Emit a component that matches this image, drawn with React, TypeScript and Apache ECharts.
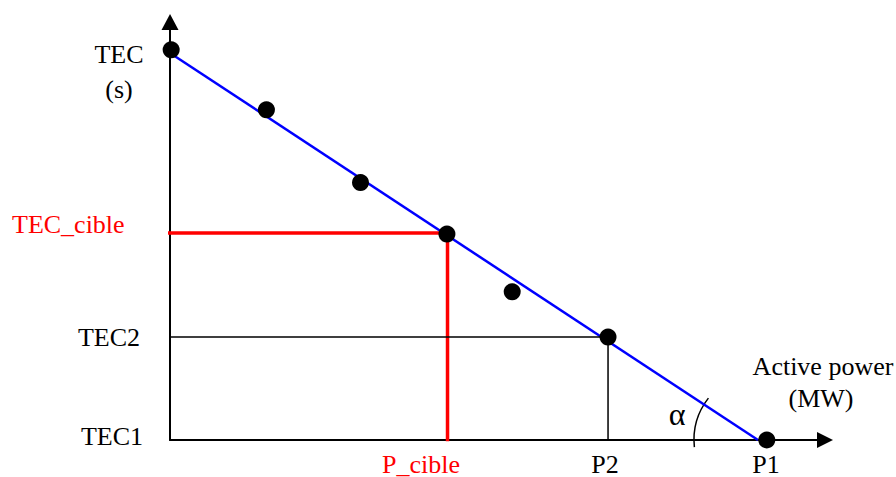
import React, { useEffect, useRef } from "react";
import * as echarts from "echarts";

// Measured points (x: active power units, y: TEC units)
const pointsX = [0.2, 16.4, 32.4, 47.1, 58.2, 74.5, 101.5];
const pointsY = [100.8, 85.3, 66.5, 53.2, 38.3, 26.6, 0];

// Regression line end points
const lineX = [0, 100];
const lineY = [100, 0];

// Target and TEC2 references
const targetP = 47.2;
const targetTEC = 53.5;
const p2 = 74.5;
const tec2 = 26.6;

const yLabels = ["TEC1", "TEC2", "TEC_cible"];
const xLabels = ["P_cible", "P2", "P1"];

const FONT = "Liberation Serif";

export default function App() {
  const ref = useRef<HTMLDivElement>(null);
  useEffect(() => {
    if (!ref.current) return;
    const chart = echarts.init(ref.current, null, { renderer: "svg" });
    const txt = (text: string, x: number, y: number, align: string, fill = "#000", size = 26) => ({
      type: "text",
      x,
      y,
      style: {
        text,
        fontSize: size,
        fontFamily: FONT,
        fill,
        align,
        verticalAlign: "middle",
      },
    });
    chart.setOption({
      animation: false,
      backgroundColor: "#fff",
      grid: { left: 170, right: 71, top: 22, bottom: 37 },
      xAxis: {
        type: "value",
        min: 0,
        max: 111.4,
        axisLine: {
          show: true,
          symbol: ["none", "triangle"],
          symbolSize: [16, 16],
          lineStyle: { color: "#000", width: 2 },
        },
        axisTick: { show: false },
        axisLabel: { show: false },
        splitLine: { show: false },
      },
      yAxis: {
        type: "value",
        min: 0,
        max: 108,
        axisLine: {
          show: true,
          symbol: ["none", "triangle"],
          symbolSize: [17, 16],
          lineStyle: { color: "#000", width: 2 },
        },
        axisTick: { show: false },
        axisLabel: { show: false },
        splitLine: { show: false },
      },
      series: [
        {
          type: "line",
          data: lineX.map((x, i) => [x, lineY[i]]),
          symbol: "none",
          lineStyle: { color: "#0000ff", width: 2.5 },
          clip: false,
          z: 2,
        },
        {
          type: "line",
          data: [
            [-0.5, targetTEC],
            [targetP, targetTEC],
            [targetP, -0.3],
          ],
          symbol: "none",
          lineStyle: { color: "#ff0000", width: 3.5 },
          clip: false,
          z: 3,
        },
        {
          type: "line",
          data: [
            [-0.3, tec2],
            [p2, tec2],
            [p2, 0],
          ],
          symbol: "none",
          lineStyle: { color: "#000", width: 1.5 },
          clip: false,
          z: 3,
        },
        {
          type: "scatter",
          data: pointsX.map((x, i) => [x, pointsY[i]]),
          symbol: "circle",
          symbolSize: 17,
          itemStyle: { color: "#000", opacity: 1 },
          clip: false,
          z: 5,
        },
      ],
      graphic: [
        txt("TEC", 119, 54, "center"),
        txt("(s)", 119, 89, "center"),
        txt(yLabels[2], 12, 224, "left", "#ff0000"),
        txt(yLabels[1], 140, 337, "right"),
        txt(yLabels[0], 143, 436, "right"),
        txt(xLabels[0], 421, 464, "center", "#ff0000"),
        txt(xLabels[1], 605, 464, "center"),
        txt(xLabels[2], 766, 464, "center"),
        txt("Active power", 823, 366, "center"),
        txt("(MW)", 821, 398, "center"),
        txt("α", 677, 414, "center", "#000", 32),
        {
          type: "arc",
          shape: {
            cx: 762,
            cy: 440,
            r: 68,
            startAngle: (174 * Math.PI) / 180,
            endAngle: (218 * Math.PI) / 180,
            clockwise: true,
          },
          style: { stroke: "#000", lineWidth: 1.5, fill: "none" },
        },
      ],
    });
    return () => chart.dispose();
  }, []);
  return (
    <div
      ref={ref}
      style={{ position: "fixed", left: 0, top: 0, width: 896, height: 477, background: "#fff" }}
    />
  );
}
